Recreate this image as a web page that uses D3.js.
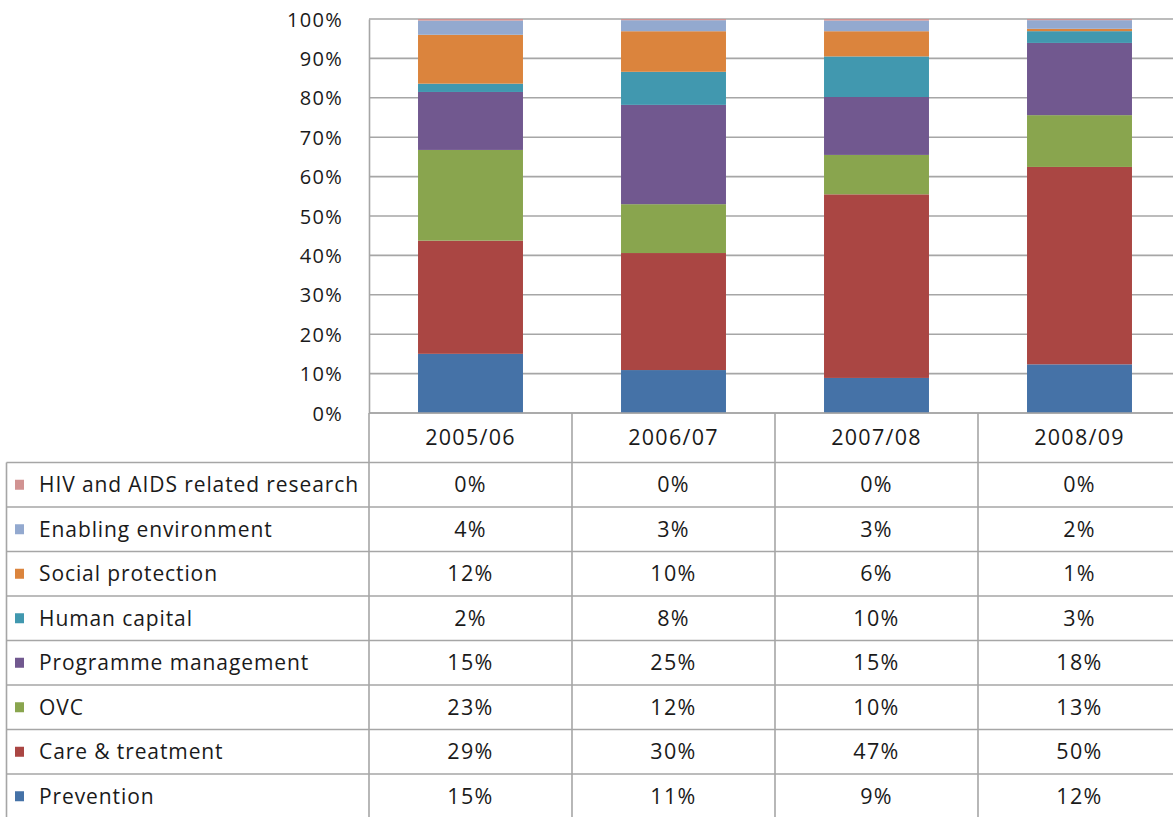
<!DOCTYPE html>
<html><head><meta charset="utf-8">
<script src="https://cdn.jsdelivr.net/npm/d3@7"></script>
<style>html,body{margin:0;padding:0;background:#fff}svg{display:block}</style>
</head><body>
<svg id="c" width="1173" height="817"></svg>
<script>
const years = ["2005/06","2006/07","2007/08","2008/09"];
const seriesNames = ["Prevention","Care & treatment","OVC","Programme management","Human capital","Social protection","Enabling environment","HIV and AIDS related research"];
const colors = ["#4572A7","#AA4643","#89A54E","#71588F","#4198AF","#DB843D","#93A9CF","#D19392"];
// percentage share per year, series in order above
const prevention = [15.0, 10.9, 8.9, 12.4];
const careTreatment = [28.7, 29.7, 46.6, 50.3];
const ovc = [23.0, 12.4, 10.0, 13.2];
const programmeMgmt = [14.7, 25.2, 14.7, 18.4];
const humanCapital = [2.1, 8.4, 10.3, 3.0];
const socialProtection = [12.4, 10.3, 6.4, 0.6];
const enablingEnv = [3.6, 2.8, 2.7, 2.2];
const research = [0.4, 0.3, 0.4, 0.3];
const yTicks = [0,0.1,0.2,0.3,0.4,0.5,0.6,0.7,0.8,0.9,1];

(function(){
const seriesValues = [prevention, careTreatment, ovc, programmeMgmt, humanCapital, socialProtection, enablingEnv, research];
const rows = years.map((yr,i)=>{const o={year:yr}; seriesNames.forEach((s,j)=>o[s]=seriesValues[j][i]); return o;});
const stack = d3.stack().keys(seriesNames).offset(d3.stackOffsetExpand)(rows);

const svg = d3.select("#c");
const font = "'Open Sans', Lato, sans-serif";
const txt = "#1a1a1a";
const gridC = "#a6a6a6";
const left = 369, plotTop = 19, base = 413;
const x = d3.scaleBand().domain(years).range([left, left + 203*4]).padding(0);
const y = d3.scaleLinear().domain([0,1]).range([base, plotTop]);
const barW = x.bandwidth()*0.517;

// gridlines
svg.append("g").selectAll("line").data(yTicks).join("line")
  .attr("x1", left).attr("x2", 1173).attr("y1", d=>y(d)).attr("y2", d=>y(d))
  .attr("stroke", gridC).attr("stroke-width", 1.6);
// y axis labels
const yAxis = d3.axisLeft(y).tickValues(yTicks).tickFormat(d3.format(".0%")).tickSize(0).tickPadding(26);
const ya = svg.append("g").attr("transform", `translate(${left},0)`).call(yAxis);
ya.select(".domain").attr("stroke", gridC).attr("stroke-width",1.6);
ya.selectAll("text").attr("font-family", font).attr("font-size", 20).attr("letter-spacing", 1.3)
  .attr("fill", txt).attr("dy","0.35em");

// bars
svg.append("g").selectAll("g").data(stack).join("g")
  .attr("fill", (d,i)=>colors[i])
  .selectAll("rect").data(d=>d).join("rect")
  .attr("x", d=>x(d.data.year) + (x.bandwidth()-barW)/2)
  .attr("width", barW)
  .attr("y", d=>y(d[1]))
  .attr("height", d=>Math.max(0, y(d[0]) - y(d[1])));

// data table
const headerBottom = 462.5, rowH = 44.5;
const tableRows = seriesNames.slice().reverse();
const lineG = svg.append("g").attr("stroke", gridC).attr("stroke-width", 1.6);
const bottom = headerBottom + rowH*tableRows.length;
lineG.append("line").attr("x1", left).attr("x2", 1173).attr("y1", base).attr("y2", base);
d3.range(tableRows.length+1).forEach(i=>{
  lineG.append("line").attr("x1", 6.5).attr("x2", 1173).attr("y1", headerBottom + i*rowH).attr("y2", headerBottom + i*rowH);
});
years.forEach(yr=>{
  lineG.append("line").attr("x1", x(yr)).attr("x2", x(yr)).attr("y1", base).attr("y2", bottom);
});
lineG.append("line").attr("x1", 6.5).attr("x2", 6.5).attr("y1", headerBottom).attr("y2", bottom);

// header labels
svg.append("g").selectAll("text").data(years).join("text")
  .attr("x", d=>x(d)+x.bandwidth()/2).attr("y", (base+headerBottom)/2).attr("dy","0.36em")
  .attr("text-anchor","middle").attr("font-family", font).attr("font-size", 21.5).attr("letter-spacing", 1.3)
  .attr("fill", txt).text(d=>d);

// row labels + legend keys
const fmt = v => Math.round(v) + "%";
tableRows.forEach((s,i)=>{
  const j = seriesNames.indexOf(s);
  const cy = headerBottom + i*rowH + rowH/2;
  svg.append("rect").attr("x", 15).attr("y", cy-5).attr("width", 9).attr("height", 10).attr("fill", colors[j]);
  svg.append("text").attr("x", 39).attr("y", cy).attr("dy","0.36em")
    .attr("font-family", font).attr("font-size", 21).attr("letter-spacing", 0.9).attr("fill", txt).text(s);
  years.forEach((yr,k)=>{
    svg.append("text").attr("x", x(yr)+x.bandwidth()/2).attr("y", cy).attr("dy","0.36em")
      .attr("text-anchor","middle").attr("font-family", font).attr("font-size", 21.5).attr("letter-spacing", 1.3)
      .attr("fill", txt).text(fmt(seriesValues[j][k]));
  });
});
})();
</script>
</body></html>
